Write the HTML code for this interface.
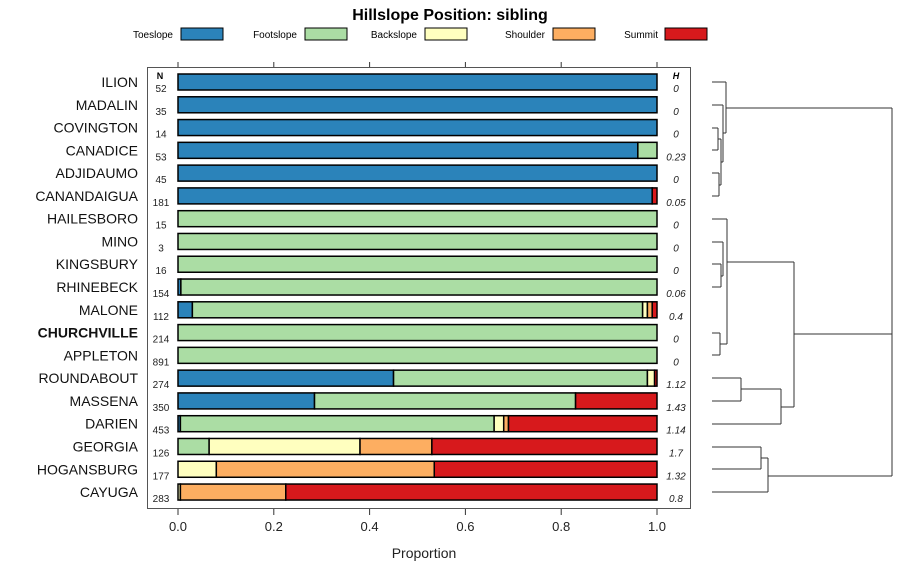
<!DOCTYPE html>
<html><head><meta charset="utf-8"><style>
body{margin:0;background:#fff}
svg text{font-family:"Liberation Sans",sans-serif}
</style></head><body>
<svg id="c" width="900" height="580"></svg>
<script>
const categories=["ILION","MADALIN","COVINGTON","CANADICE","ADJIDAUMO","CANANDAIGUA","HAILESBORO","MINO","KINGSBURY","RHINEBECK","MALONE","CHURCHVILLE","APPLETON","ROUNDABOUT","MASSENA","DARIEN","GEORGIA","HOGANSBURG","CAYUGA"];
const nValues=[52,35,14,53,45,181,15,3,16,154,112,214,891,274,350,453,126,177,283];
const hValues=["0","0","0","0.23","0","0.05","0","0","0","0.06","0.4","0","0","1.12","1.43","1.14","1.7","1.32","0.8"];
const seriesNames=["Toeslope","Footslope","Backslope","Shoulder","Summit"];
const toeslope=[1,1,1,0.96,1,0.99,0,0,0,0.006,0.03,0,0,0.45,0.285,0.005,0,0,0];
const footslope=[0,0,0,0.04,0,0,1,1,1,0.994,0.94,1,1,0.53,0.545,0.655,0.065,0,0];
const backslope=[0,0,0,0,0,0,0,0,0,0,0.01,0,0,0.015,0,0.02,0.315,0.08,0.005];
const shoulder=[0,0,0,0,0,0,0,0,0,0,0.01,0,0,0,0,0.01,0.15,0.455,0.22];
const summit=[0,0,0,0,0,0.01,0,0,0,0,0.01,0,0,0.005,0.17,0.31,0.47,0.465,0.775];
const xTicks=[0,0.2,0.4,0.6,0.8,1];
const colors=["#2b83ba","#abdda4","#ffffbf","#fdae61","#d7191c"];
const svg=document.getElementById('c');const NS="http://www.w3.org/2000/svg";
function mk(t,a,p){const e=document.createElementNS(NS,t);for(const k in a)e.setAttribute(k,a[k]);(p||svg).appendChild(e);return e;}
const X=v=>178+v*479;
const Y=i=>82+i*22.78;
let e;
e=mk('text',{x:450,y:20,'text-anchor':'middle','font-size':16,'font-weight':'bold'});e.textContent="Hillslope Position: sibling";


const legX=[[173,181],[297,305],[417,425],[545,553],[658,665]];
seriesNames.forEach((s,k)=>{
 const g=mk('g',{});
 
 
 const t=mk('text',{x:legX[k][0],y:38,'text-anchor':'end','font-size':10},g);t.textContent=s;
 mk('rect',{x:legX[k][1],y:28,width:42,height:12,fill:colors[k],stroke:'#000','stroke-width':1},g);
});
e=mk('rect',{x:147.5,y:67.5,width:543,height:441,fill:'none',stroke:'#555','stroke-width':1});


xTicks.forEach(v=>{
 mk('line',{x1:X(v),x2:X(v),y1:62,y2:67,stroke:'#333'});
 mk('line',{x1:X(v),x2:X(v),y1:509,y2:515,stroke:'#333'});
 const t=mk('text',{x:X(v),y:531,'text-anchor':'middle','font-size':13,fill:'#222'});t.textContent=v===0?"0.0":v===1?"1.0":String(v);
 
 
});
e=mk('text',{x:424,y:558,'text-anchor':'middle','font-size':14,fill:'#222'});e.textContent="Proportion";


e=mk('text',{x:160,y:79,'text-anchor':'middle','font-size':9,'font-weight':'bold'});e.textContent="N";


e=mk('text',{x:676,y:79,'text-anchor':'middle','font-size':9,'font-weight':'bold','font-style':'italic'});e.textContent="H";


const series=[toeslope,footslope,backslope,shoulder,summit];
categories.forEach((c,i)=>{
 const y=Y(i);
 const t=mk('text',{x:138,y:y+5,'text-anchor':'end','font-size':14,fill:'#111','font-weight':c==="CHURCHVILLE"?'bold':'normal'});t.textContent=c;
 
 
 const n=mk('text',{x:161,y:y+10,'text-anchor':'middle','font-size':10,fill:'#222'});n.textContent=nValues[i];
 
 
 const h=mk('text',{x:676,y:y+10,'text-anchor':'middle','font-size':10,'font-style':'italic',fill:'#222'});h.textContent=hValues[i];
 
 
 let cum=0;
 series.forEach((s,k)=>{
  const v=s[i];if(v<=0)return;
  const r=mk('rect',{x:X(cum),y:y-8,width:X(cum+v)-X(cum),height:16,fill:colors[k],stroke:'#000','stroke-width':1.5});
  
  
  cum+=v;
 });
});
const dg=mk('g',{stroke:'#333','stroke-width':1,fill:'none'});


const segs=[
[712,82,726,82],[712,105,723,105],[712,128,718,128],[712,150,718,150],[718,128,718,150],
[712,173,719,173],[712,196,719,196],[719,173,719,196],[718,139,721,139],[719,185,721,185],[721,139,721,185],
[721,162,723,162],[723,105,723,162],[723,133,726,133],[726,82,726,133],[726,108,892,108],
[712,219,727,219],[712,242,723,242],[712,264,721,264],[712,287,721,287],[721,264,721,287],
[721,276,723,276],[723,242,723,276],[712,333,720,333],[712,355,720,355],[720,333,720,355],
[720,344,727,344],[727,219,727,344],[727,262,794,262],
[712,378,741,378],[712,401,741,401],[741,378,741,401],[741,389,781,389],[712,424,781,424],[781,389,781,424],
[781,407,794,407],[794,262,794,407],[794,334,892,334],
[712,447,761,447],[712,469,761,469],[761,447,761,469],[761,458,768,458],[712,492,768,492],[768,458,768,492],
[768,476,892,476],[892,108,892,476]];
segs.forEach(s=>mk('line',{x1:s[0],y1:s[1],x2:s[2],y2:s[3]},dg));
</script>
</body></html>
